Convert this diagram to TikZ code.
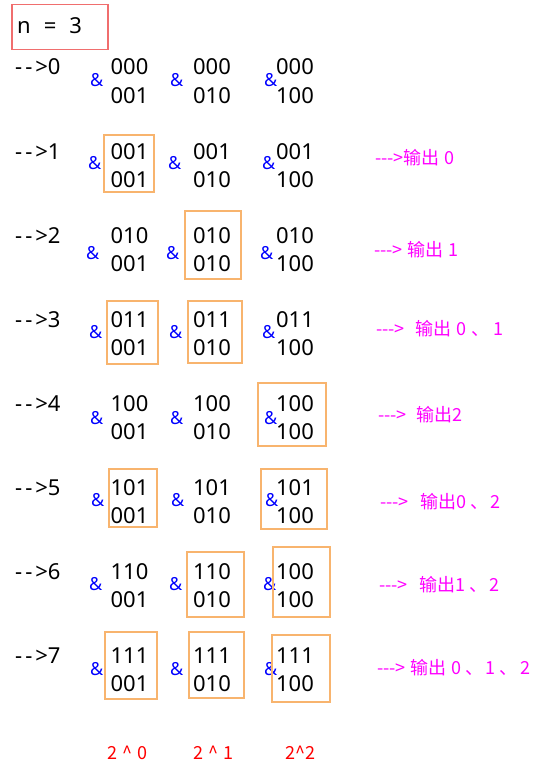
\documentclass[tikz,border=0pt]{standalone}
\usepackage{fontspec}
\newfontfamily\bfnt{Noto Sans}
\newfontfamily\cjk{Noto Sans CJK SC}
\definecolor{hlc}{RGB}{248,180,110}
\definecolor{rboxc}{RGB}{240,110,110}
\definecolor{mag}{RGB}{255,0,255}
\begin{document}
\begin{tikzpicture}[x=1pt,y=-1pt,
  bin/.style={font=\bfnt\fontsize{22}{26}\selectfont, inner sep=0pt, anchor=base},
  amp/.style={font=\bfnt\fontsize{18}{22}\selectfont, text=blue, inner sep=0pt, anchor=west},
  lbl/.style={font=\bfnt\fontsize{22}{26}\selectfont, inner sep=0pt, anchor=base west},
  note/.style={font=\cjk\fontsize{18}{21}\selectfont, text=mag, inner sep=0pt, anchor=west},
  pw/.style={font=\cjk\fontsize{18}{21}\selectfont, text=red, inner sep=0pt, anchor=west},
  hl/.style={draw=hlc, line width=1.5pt},
  nbox/.style={draw=rboxc, line width=1.5pt, minimum width=96pt, minimum height=45pt, anchor=north west, inner sep=0pt}
]
\useasboundingbox (0,0) rectangle (550,765);
% n = 3
\node[nbox] (nb) at (11,4) {};
\node[lbl] (nlabel) at (17,34) {n\hspace{13pt}=\hspace{13pt}3};
% rows
\foreach \r/\t/\u/\ax/\bx/\cx/\dy in {
  0/000/000/90/170/264/13,
  1/001/001/88/168/262/12,
  2/010/010/86/166/260/18,
  3/011/011/89/169/262/13,
  4/100/100/90/170/264/15,
  5/101/101/91/171/265/13,
  6/110/100/89/169/263/13,
  7/111/111/90/170/264/14}{
  \pgfmathsetmacro{\yr}{67+84*\r}
  \node[lbl] (l\r) at (15,\yr+8) {-\kern3pt-\kern3pt>\r};
  \node[amp] (a\r a) at (\ax,\yr+\dy) {\&};
  \node[amp] (a\r b) at (\bx,\yr+\dy) {\&};
  \node[amp] (a\r c) at (\cx,\yr+\dy) {\&};
  \node[bin] (t\r a) at (129.5,\yr+8) {\t};
  \node[bin] (b\r a) at (129.5,\yr+36) {001};
  \node[bin] (t\r b) at (212,\yr+8) {\t};
  \node[bin] (b\r b) at (212,\yr+36) {010};
  \node[bin] (t\r c) at (295,\yr+8) {\u};
  \node[bin] (b\r c) at (295,\yr+36) {100};
}
% highlight boxes
\draw[hl] (104,135) rectangle (154,192);
\draw[hl] (185,211) rectangle (241,279);
\draw[hl] (107,301) rectangle (158,364);
\draw[hl] (188,301) rectangle (242,363);
\draw[hl] (258,383) rectangle (326,446);
\draw[hl] (109,469) rectangle (157,527);
\draw[hl] (261,469) rectangle (327,529);
\draw[hl] (187,552) rectangle (244,617);
\draw[hl] (273,547) rectangle (330,617);
\draw[hl] (105,632) rectangle (157,699);
\draw[hl] (189,632) rectangle (244,698);
\draw[hl] (272,635) rectangle (330,702);
% notes
\node[note] (o1) at (375,158) {-{}-{}->输出\hspace{5pt}0};
\node[note] (o2) at (374,250) {-{}-{}->\hspace{5pt}输出\hspace{5pt}1};
\node[note] (o3) at (376,329) {-{}-{}->\hspace{11pt}输出\hspace{5pt}0\hspace{5pt}、\hspace{4pt}1};
\node[note] (o4) at (378,415) {-{}-{}->\hspace{10pt}输出2};
\node[note] (o5) at (380,502) {-{}-{}->\hspace{12pt}输出0\hspace{4pt}、\hspace{2pt}2};
\node[note] (o6) at (379,585) {-{}-{}->\hspace{12pt}输出1\hspace{4pt}、\hspace{2pt}2};
\node[note] (o7) at (377,668) {-{}-{}->\hspace{5pt}输出\hspace{5pt}0\hspace{4pt}、\hspace{2pt}1\hspace{4pt}、\hspace{3pt}2};
% powers
\node[pw] (p0) at (107,753) {2\hspace{5pt}\^{}\hspace{5pt}0};
\node[pw] (p1) at (193,753) {2\hspace{5pt}\^{}\hspace{5pt}1};
\node[pw] (p2) at (285,753) {2\^{}2};
\end{tikzpicture}
\end{document}
